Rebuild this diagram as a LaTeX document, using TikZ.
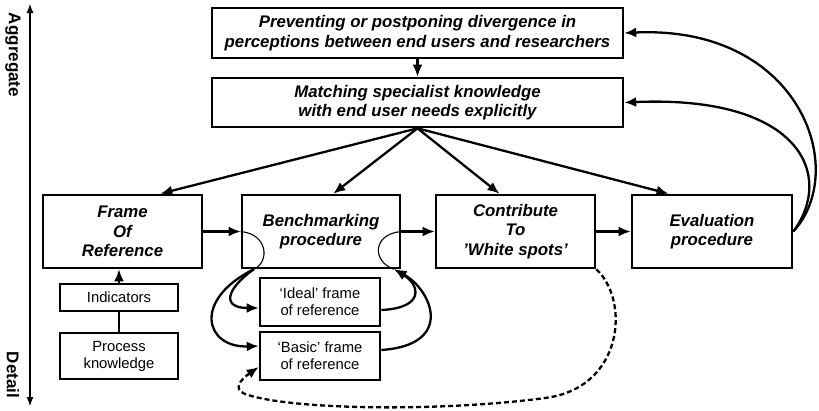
\documentclass[tikz,border=0pt]{standalone}
\usepackage{fontspec}
\setmainfont{Liberation Sans}
\usepackage{tikz}
\usetikzlibrary{calc}
\usetikzlibrary{arrows}
\usetikzlibrary{arrows.meta}
\usetikzlibrary{positioning}
\tikzset{>={Latex[length = 12pt, width = 10pt]}}
\tikzstyle{mainbox} = [draw, line width = 2.6pt, align = center, font = \fontsize{16.8}{19.5}\selectfont\bfseries\itshape]
\tikzstyle{subbox} = [draw, line width = 2.6pt, align = center, font = \fontsize{14.8}{17}\selectfont]
\tikzstyle{flow} = [->, line width = 2.3pt]
\tikzstyle{hair} = [-, line width = 1.1pt]

\begin{document}
\begin{tikzpicture}[x = 1pt, y = -1pt]
\useasboundingbox (0, 0) rectangle (819, 410);
% axis
\coordinate (up) at (30, 4);
\coordinate (down) at (30, 406);
\draw [{Latex[length = 9pt, width = 7pt]}-{Latex[length = 9pt, width = 7pt]}, line width = 1.1pt] (up) -- (down);
\node [rotate = -90, font = \fontsize{17}{20}\selectfont\bfseries] (agg) at (13, 55) {Aggregate};
\node [rotate = -90, font = \fontsize{17}{20}\selectfont\bfseries] (det) at (13, 375) {Detail};
% boxes
\node [mainbox, minimum width = 411, minimum height = 50] (prevent) at (417.5, 33) {Preventing or postponing divergence in\\perceptions between end users and researchers};
\node [mainbox, minimum width = 411, minimum height = 49] (match) at (417.5, 102.5) {Matching specialist knowledge\\with end user needs explicitly};
\node [mainbox, minimum width = 159, minimum height = 73] (frame) at (122.5, 231.5) {Frame\\Of\\Reference};
\node [mainbox, minimum width = 158, minimum height = 73] (bench) at (321, 231.5) {Benchmarking\\procedure};
\node [mainbox, minimum width = 159, minimum height = 73] (contrib) at (515.5, 231.5) {Contribute\\To\\'White spots'};
\node [mainbox, minimum width = 160, minimum height = 73] (eval) at (712, 231.5) {Evaluation\\procedure};
\node [subbox, minimum width = 118, minimum height = 27] (ind) at (119, 297.5) {Indicators};
\node [subbox, minimum width = 118, minimum height = 46] (proc) at (119, 356) {Process\\knowledge};
\node [subbox, minimum width = 120, minimum height = 48] (ideal) at (320, 302) {`Ideal' frame\\of reference};
\node [subbox, minimum width = 120, minimum height = 48] (basic) at (320, 356) {`Basic' frame\\of reference};
% arrows
\draw [flow] (prevent) -- (match);
\draw [flow] (match.south) -- (frame.45);
\draw [flow] (match.south) -- (bench.72);
\draw [flow] (match.south) -- (contrib.113);
\draw [flow] (match.south) -- (eval.139);
\draw [flow] (frame) -- (bench);
\draw [flow] (bench) -- (contrib);
\draw [flow] (contrib) -- (eval);
\draw [flow] (ind.north) -- (ind.north |- frame.south);
\draw [line width = 2.3pt] (proc) -- (ind);
\draw [flow] (eval.east) .. controls (850, 170) and (800, 25) .. (prevent.east);
\draw [flow] (eval.east) .. controls (835, 175) and (800, 95) .. (match.east);
% loops through the benchmark
\coordinate (bl) at ($(bench.south west) + (13, 0)$);
\coordinate (br) at ($(bench.south east) + (-7, 0)$);
\draw [hair] (bench.west) .. controls (268, 234) and (270, 262) .. (bl);
\draw [flow] (bl) .. controls (225, 290) and (222, 308) .. ($(ideal.west) + (0, 6)$);
\draw [flow] (bl) .. controls (192, 300) and (205, 348) .. ($(basic.west) + (0, -10)$);
\draw [flow] ($(ideal.east) + (0, 8)$) .. controls (425, 308) and (420, 285) .. (br);
\draw [flow] ($(basic.east) + (0, -6)$) .. controls (455, 345) and (432, 290) .. (br);
\draw [hair] (br) .. controls (372, 262) and (372, 234) .. (bench.east);
\draw [flow, dash pattern = on 5pt off 3pt] (contrib.south east) .. controls (630, 300) and (624, 388) .. (545, 398) .. controls (440, 412) and (290, 410) .. (245, 394) .. controls (233, 389) and (240, 380) .. ($(basic.west) + (0, 11)$);
\end{tikzpicture}
\end{document}
